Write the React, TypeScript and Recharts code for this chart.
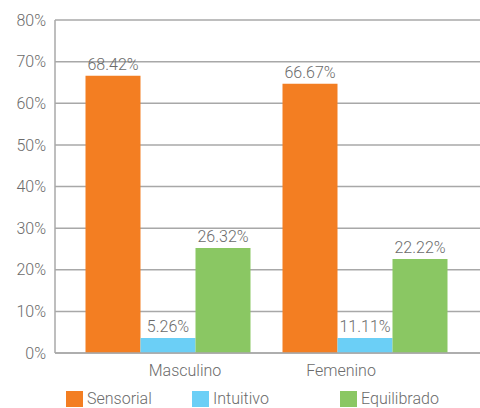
import React from 'react';
import { BarChart, Bar, XAxis, YAxis, CartesianGrid, LabelList } from 'recharts';

const categories = ['Masculino', 'Femenino'];
const seriesNames = ['Sensorial', 'Intuitivo', 'Equilibrado'];
// bar heights as drawn in the picture
const sensorial = [66.6, 64.7];
const intuitivo = [3.6, 3.6];
const equilibrado = [25.2, 22.6];
// printed labels
const sensorialLabels = ['68.42%', '66.67%'];
const intuitivoLabels = ['5.26%', '11.11%'];
const equilibradoLabels = ['26.32%', '22.22%'];
const yTicks = [0, 10, 20, 30, 40, 50, 60, 70, 80];

const COLORS = ['#F37E22', '#6BCFF6', '#8AC763'];
const TEXT = '#6b6b6b';
const LINE = '#a8a8a8';
const FONT = 'Roboto, "Liberation Sans", Arial, sans-serif';

const data = categories.map((name, i) => ({
  name,
  s: sensorial[i],
  in: intuitivo[i],
  e: equilibrado[i],
  sL: sensorialLabels[i],
  iL: intuitivoLabels[i],
  eL: equilibradoLabels[i],
}));

const TICK_SHIFT = [17, -24];

const CategoryTick = (props: any) => {
  const { x, y, payload, index } = props;
  return (
    <text x={x + (TICK_SHIFT[index] || 0)} y={y + 15} textAnchor="middle" fill={TEXT} fontSize={16} fontWeight={300} fontFamily={FONT}>
      {payload.value}
    </text>
  );
};

const legendLeft = [66, 192, 340];

const App: React.FC = () => {
  const labelStyle = { fill: TEXT, fontSize: 16, fontWeight: 300, fontFamily: FONT };
  return (
    <div style={{ position: 'absolute', left: 0, top: 0, width: 480, height: 408, overflow: 'hidden', background: '#fff' }}>
      <BarChart width={480} height={408} data={data} margin={{ top: 20, right: 0, bottom: 0, left: 0 }} barGap={0}>
        <CartesianGrid vertical={false} stroke={LINE} strokeWidth={1.5} />
        <XAxis
          dataKey="name"
          height={55}
          padding={{ left: 14.5, right: 16.5 }}
          axisLine={{ stroke: LINE, strokeWidth: 1.5 }}
          tickLine={false}
          tick={<CategoryTick />}
        />
        <YAxis
          width={55}
          domain={[0, 80]}
          ticks={yTicks}
          interval={0}
          tickFormatter={(v: number) => `${v}%`}
          axisLine={{ stroke: LINE, strokeWidth: 1.5 }}
          tickLine={false}
          tickSize={0}
          tickMargin={9}
          tick={{ ...labelStyle }}
        />
        <Bar dataKey="s" fill={COLORS[0]} barSize={55} isAnimationActive={false}>
          <LabelList dataKey="sL" position="top" offset={6} style={labelStyle} />
        </Bar>
        <Bar dataKey="in" fill={COLORS[1]} barSize={55} isAnimationActive={false}>
          <LabelList dataKey="iL" position="top" offset={6} style={labelStyle} />
        </Bar>
        <Bar dataKey="e" fill={COLORS[2]} barSize={55} isAnimationActive={false}>
          <LabelList dataKey="eL" position="top" offset={6} style={labelStyle} />
        </Bar>
      </BarChart>
      {seriesNames.map((n, i) => (
        <div
          key={n}
          style={{ position: 'absolute', left: legendLeft[i], top: 390, display: 'flex', alignItems: 'center', fontFamily: FONT, fontWeight: 300, fontSize: 16, color: TEXT }}
        >
          <span style={{ display: 'inline-block', width: 17, height: 16, background: COLORS[i], marginRight: 4 }} />
          <span style={{ lineHeight: '18px' }}>{n}</span>
        </div>
      ))}
    </div>
  );
};

export default App;
